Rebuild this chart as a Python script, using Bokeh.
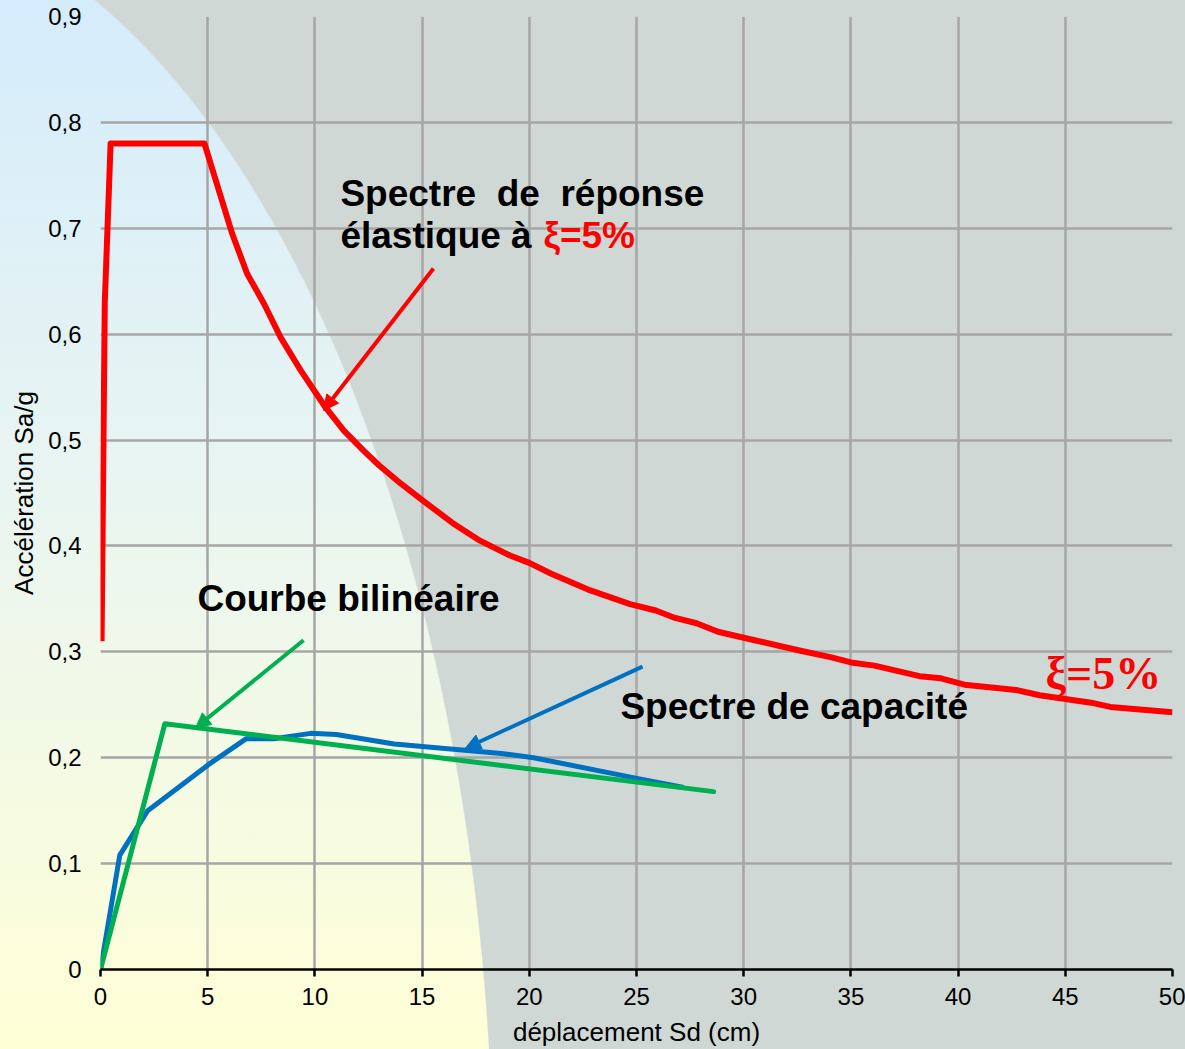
from bokeh.plotting import figure
from bokeh.models import Label, Arrow, NormalHead, FixedTicker, Range1d
from bokeh.embed import file_html
from bokeh.resources import INLINE

# ---------------- data ----------------
elastic_sd = [0.05, 0.2, 0.47, 4.85, 6.14, 6.84, 7.62, 8.4, 9.33, 10.49, 11.35, 12.27,
              13.0, 14.0, 15.16, 16.4, 17.7, 19.1, 20.0, 21.0, 22.85, 24.7, 25.9, 26.8,
              27.8, 28.8, 29.85, 32.65, 34.05, 35.0, 36.1, 38.2, 39.2, 40.3, 42.7, 43.8,
              46.2, 47.1, 50.0]
elastic_sa = [0.31, 0.63, 0.78, 0.78, 0.695, 0.657, 0.629, 0.597, 0.566, 0.531, 0.509, 0.490,
              0.476, 0.459, 0.441, 0.422, 0.405, 0.391, 0.384, 0.374, 0.358, 0.345, 0.339, 0.332,
              0.327, 0.319, 0.314, 0.301, 0.295, 0.290, 0.287, 0.277, 0.275, 0.269, 0.264, 0.259,
              0.252, 0.248, 0.243]

capacity_sd = [0.0, 0.9, 2.2, 5.0, 6.8, 8.1, 9.8, 11.0, 13.7, 18.7, 20.2, 24.9, 27.2]
capacity_sa = [0.0, 0.108, 0.150, 0.193, 0.218, 0.218, 0.223, 0.222, 0.213, 0.204, 0.200, 0.181, 0.172]

bilinear_sd = [0.0, 3.0, 28.6]
bilinear_sa = [0.0, 0.232, 0.168]

arrow_x_start = [15.53, 9.47, 25.28]
arrow_y_start = [0.662, 0.311, 0.286]
arrow_x_end = [10.4, 4.43, 17.02]
arrow_y_end = [0.528, 0.228, 0.209]
arrow_colors = ["#ff0000", "#00b050", "#0070c0"]

x_ticks = [0, 5, 10, 15, 20, 25, 30, 35, 40, 45, 50]
y_ticks = [0.0, 0.1, 0.2, 0.3, 0.4, 0.5, 0.6, 0.7, 0.8, 0.9]
y_tick_labels = ["0", "0,1", "0,2", "0,3", "0,4", "0,5", "0,6", "0,7", "0,8", "0,9"]

# ---------------- figure ----------------
bg = ("radial-gradient(ellipse 646px 1300px at -152px 1200px, rgba(208,216,214,0) 99.8%, #d0d8d6 100%), "
      "linear-gradient(to bottom, #d5ecfc 0%, #e9f5f1 47%, #ffffd6 100%)")

p = figure(width=1185, height=1049, output_backend="svg", toolbar_location=None,
           x_range=Range1d(0, 50), y_range=Range1d(0, 0.9),
           min_border_left=100, min_border_right=13, min_border_top=16, min_border_bottom=80,
           styles={"background-image": bg})
p.border_fill_color = None
p.background_fill_color = None
p.outline_line_color = None

FONT = "Liberation Sans"

p.xaxis.ticker = FixedTicker(ticks=x_ticks)
p.yaxis.ticker = FixedTicker(ticks=y_ticks)
p.yaxis.major_label_overrides = {t: l for t, l in zip(y_ticks, y_tick_labels)}
p.xgrid.ticker = FixedTicker(ticks=x_ticks)
p.ygrid.ticker = FixedTicker(ticks=y_ticks)
for g in (p.xgrid, p.ygrid):
    g.grid_line_color = "#a6a6a6"
    g.grid_line_width = 2.5

p.xaxis.axis_line_color = "black"
p.xaxis.axis_line_width = 2.5
p.xaxis.major_tick_line_color = "black"
p.xaxis.major_tick_line_width = 2.5
p.xaxis.major_tick_out = 7
p.xaxis.major_tick_in = 0
p.xaxis.minor_tick_line_color = None
p.xaxis.major_label_standoff = 11
p.xaxis.axis_label = "déplacement Sd (cm)"
p.xaxis.axis_label_standoff = 9

p.yaxis.axis_line_color = None
p.yaxis.major_tick_line_color = None
p.yaxis.minor_tick_line_color = None
p.yaxis.major_label_standoff = 13
p.yaxis.axis_label = "Accélération Sa/g"
p.yaxis.axis_label_standoff = 6

for ax in (p.xaxis, p.yaxis):
    ax.major_label_text_font = FONT
    ax.major_label_text_font_size = "24px"
    ax.major_label_text_color = "black"
    ax.axis_label_text_font = FONT
    ax.axis_label_text_font_size = "26px"
    ax.axis_label_text_font_style = "normal"
    ax.axis_label_text_color = "black"

# ---------------- curves ----------------
p.line(elastic_sd, elastic_sa, line_color="#ff0000", line_width=6, line_join="round")
p.line(capacity_sd, capacity_sa, line_color="#0070c0", line_width=5, line_join="round")
p.line(bilinear_sd, bilinear_sa, line_color="#00b050", line_width=5, line_join="round",
       line_cap="round")

for xs, ys, xe, ye, c in zip(arrow_x_start, arrow_y_start, arrow_x_end, arrow_y_end, arrow_colors):
    p.add_layout(Arrow(x_start=xs, y_start=ys, x_end=xe, y_end=ye,
                       line_color=c, line_width=4,
                       end=NormalHead(size=15, fill_color=c, line_color=c, line_width=1)))

# ---------------- annotations ----------------
def lab(x, y, text, color="black", size="37px", font=FONT):
    p.add_layout(Label(x=x, y=y, text=text, text_font=font, text_font_style="bold",
                       text_font_size=size, text_color=color, text_baseline="alphabetic"))

lab(11.19, 0.7327, "Spectre\u00a0 de\u00a0 réponse")
lab(11.19, 0.6931, "élastique à")
lab(20.66, 0.6931, "ξ=5%", color="#ff0000")
lab(4.52, 0.3503, "Courbe bilinéaire")
lab(24.25, 0.2483, "Spectre de capacité")
lab(44.08, 0.2800, "ξ=5%", color="#ff0000", size="46px", font="Liberation Serif")

open("out.html", "w").write(file_html(p, INLINE))
